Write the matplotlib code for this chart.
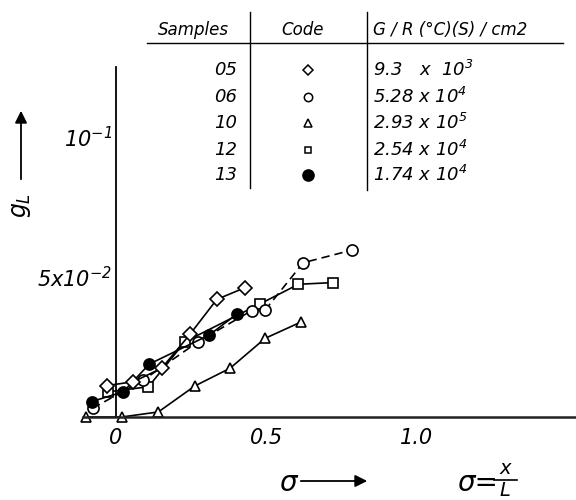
import matplotlib
matplotlib.use("Agg")
import matplotlib.pyplot as plt
from matplotlib.lines import Line2D
from matplotlib.patches import FancyArrowPatch

plt.rcParams['font.family'] = 'DejaVu Sans'
plt.rcParams['font.style'] = 'italic'
plt.rcParams['mathtext.fontset'] = 'custom'
plt.rcParams['mathtext.rm'] = 'DejaVu Sans:italic'
plt.rcParams['mathtext.it'] = 'DejaVu Sans:italic'
plt.rcParams['mathtext.sf'] = 'DejaVu Sans:italic'

W, H = 576, 500

# sample 05 - open diamonds
sig_05 = [-0.031, 0.058, 0.152, 0.247, 0.336, 0.430]
g_05 = [0.0112, 0.0126, 0.0174, 0.0296, 0.0420, 0.0462]
# sample 06 - open circles, dashed
sig_06 = [-0.078, 0.091, 0.274, 0.452, 0.497, 0.624, 0.786]
g_06 = [0.0031, 0.0132, 0.0269, 0.0380, 0.0382, 0.0551, 0.0596]
# sample 10 - open triangles
sig_10 = [-0.100, 0.019, 0.141, 0.263, 0.380, 0.497, 0.616]
g_10 = [0.0, 0.0, 0.0018, 0.0111, 0.0174, 0.0281, 0.0339]
# sample 12 - open squares
sig_12 = [-0.026, 0.108, 0.230, 0.480, 0.608, 0.722]
g_12 = [0.0090, 0.0108, 0.0269, 0.0404, 0.0474, 0.0480]
# sample 13 - filled circles
sig_13 = [-0.081, 0.024, 0.111, 0.311, 0.402]
g_13 = [0.0055, 0.0090, 0.0189, 0.0293, 0.0367]

samples = ["05", "06", "10", "12", "13"]
growth = [r"$9.3\ \ \ x\ \ 10^{3}$", r"$5.28\ x\ 10^{4}$", r"$2.93\ x\ 10^{5}$",
          r"$2.54\ x\ 10^{4}$", r"$1.74\ x\ 10^{4}$"]

xticks = [0, 0.5, 1.0]
xticklabels = ["0", "0.5", "1.0"]
yticks = [0.05, 0.1]
yticklabels = [r"$5x10^{-2}$", r"$10^{-1}$"]


def fx(x):
    return x / W


def fy(y):
    return 1 - y / H


fig = plt.figure(figsize=(5.76, 5.0), dpi=100)
ax = fig.add_axes([fx(83), fy(417), (576 - 83) / W, 350 / H])
ax.set_xlim(-0.11, 1.533)
ax.set_ylim(0, 0.125)

ax.spines['top'].set_visible(False)
ax.spines['right'].set_visible(False)
ax.spines['left'].set_position(('data', 0))
ax.spines['left'].set_linewidth(1.3)
ax.spines['bottom'].set_linewidth(1.8)
ax.spines['bottom'].set_color('#222222')

ax.set_xticks(xticks, xticklabels)
ax.set_yticks(yticks, yticklabels)
ax.tick_params(length=0, labelsize=15)
ax.tick_params(axis='x', pad=8)
ax.tick_params(axis='y', pad=3)

style = dict(color='black', lw=1.2, ms=8, mec='black', mew=1.2, clip_on=False)
ax.plot(sig_10, g_10, marker='^', mfc='white', **dict(style, ms=7.5))
ax.plot(sig_12, g_12, marker='s', mfc='white', **dict(style, ms=7.5))
ax.plot(sig_06, g_06, marker='o', mfc='white', linestyle=(0, (5, 3)), **style)
ax.plot(sig_13, g_13, marker='o', mfc='black', **style)
ax.plot(sig_05, g_05, marker='D', mfc='white', **dict(style, ms=7))

# table at the top
def line(x0, y0, x1, y1, lw=1.0):
    fig.add_artist(Line2D([fx(x0), fx(x1)], [fy(y0), fy(y1)], color='black', lw=lw))

line(147, 43, 563, 43)
line(250, 12, 250, 188)
line(367, 12, 367, 190)

fig.text(fx(193), fy(30), "Samples", ha='center', va='center', fontsize=12)
fig.text(fx(303), fy(30), "Code", ha='center', va='center', fontsize=12)
fig.text(fx(373), fy(30), "G / R (°C)(S) / cm2", ha='left', va='center', fontsize=12)

row_y = [70, 97, 123, 150, 175]
codes = [('D', 'white', 5), ('o', 'white', 6), ('^', 'white', 6), ('s', 'white', 5), ('o', 'black', 8)]
for s, val, yy, (m, fc, ms) in zip(samples, growth, row_y, codes):
    fig.text(fx(237), fy(yy), s, ha='right', va='center', fontsize=13)
    fig.text(fx(373), fy(yy), val, ha='left', va='center', fontsize=13)
    fig.add_artist(Line2D([fx(308)], [fy(yy)], marker=m, mfc=fc, mec='black', ms=ms, mew=1.1))

# axis labels with arrows
fig.text(fx(21), fy(205), r"$g_L$", rotation=90, ha='center', va='center', fontsize=17)
fig.add_artist(FancyArrowPatch((fx(21), fy(182)), (fx(21), fy(108)), transform=fig.transFigure,
                               arrowstyle='-|>', mutation_scale=18, color='black', lw=1.3))
fig.text(fx(288), fy(483), "σ", ha='center', va='center', fontsize=20)
fig.add_artist(FancyArrowPatch((fx(298), fy(481)), (fx(370), fy(481)), transform=fig.transFigure,
                               arrowstyle='-|>', mutation_scale=18, color='black', lw=1.3))
fig.text(fx(457), fy(483), "σ=", ha='left', va='center', fontsize=20)
fig.text(fx(505), fy(468), "x", ha='center', va='center', fontsize=14)
fig.text(fx(505), fy(490), "L", ha='center', va='center', fontsize=14)
line(494, 480, 517, 480, lw=1.2)

fig.savefig("out.png", dpi=100)
